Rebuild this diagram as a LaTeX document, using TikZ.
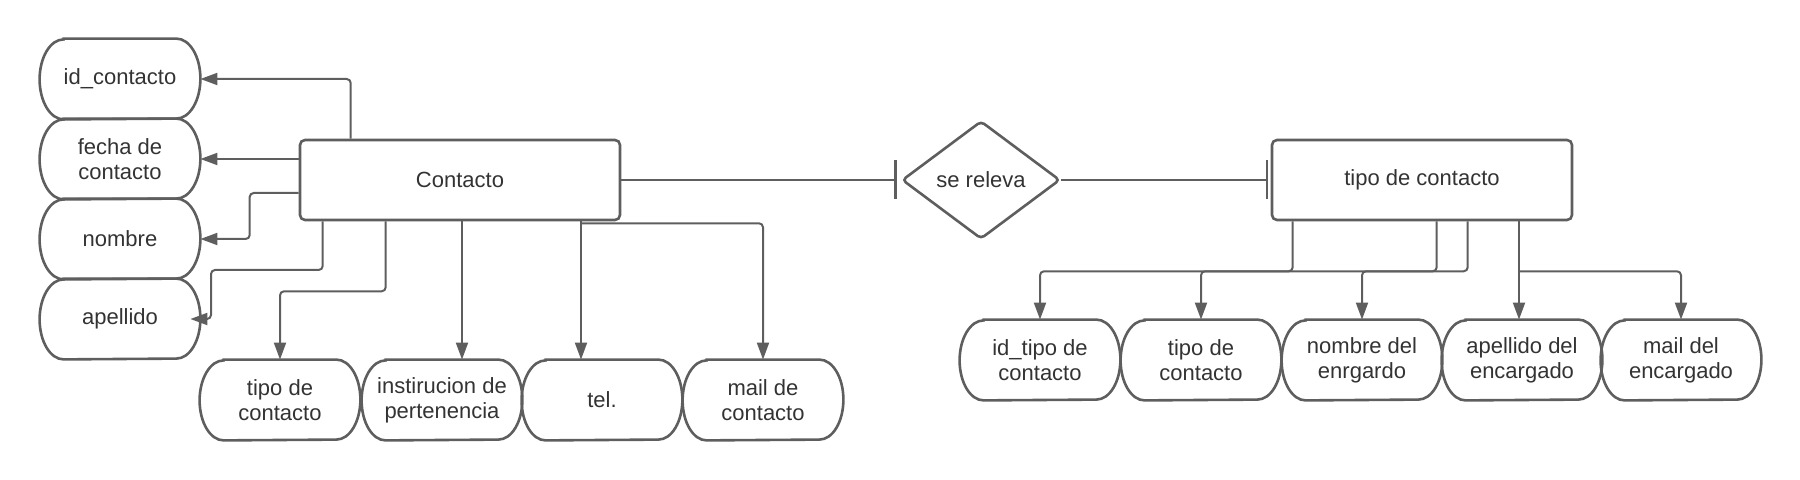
\documentclass[tikz,border=0pt]{standalone}
\usepackage{fontspec}
\setmainfont{Liberation Sans}
\usetikzlibrary{arrows.meta,shapes.geometric}
\definecolor{ln}{HTML}{5E5E5E}
\definecolor{tx}{HTML}{333333}
\newcommand\attrshape[1]{%
  \draw[shapeline] ([xshift=12pt]#1.north west) -- ([xshift=-12pt]#1.north east)
    arc[start angle=90, end angle=-90, x radius=12pt, y radius=20pt]
    -- ([xshift=12pt]#1.south west)
    arc[start angle=270, end angle=90, x radius=12pt, y radius=20pt] -- cycle;}
\begin{document}
\begin{tikzpicture}[x=0.5pt,y=-0.5pt,
  every node/.style={font=\fontsize{11pt}{12.5pt}\selectfont, text=tx},
  attrbox/.style={rectangle, minimum width=80pt, minimum height=40pt, inner sep=0pt, align=center},
  entbox/.style={rectangle, draw=ln, line width=1.3pt, rounded corners=2.5pt, minimum height=40pt, inner sep=0pt},
  relshape/.style={diamond, draw=ln, line width=1.3pt, rounded corners=2pt, minimum width=79pt, minimum height=59pt, inner sep=0pt, aspect=1.34},
  shapeline/.style={draw=ln, line width=1.3pt},
  conn/.style={draw=ln, line width=1pt, rounded corners=2pt, -{Triangle[length=8.5pt,width=6pt]}},
  plainline/.style={draw=ln, line width=1pt, rounded corners=2pt},
  erline/.style={draw=ln, -{Bar[width=19.5pt]}},
]
\useasboundingbox (0,0) rectangle (1800,480);

% left attributes
\node[attrbox] (idc) at (120,79) {id\_contacto};
\node[attrbox] (fecha) at (120,159) {fecha de\\contacto};
\node[attrbox] (nombre) at (120,239) {nombre};
\node[attrbox] (apellido) at (120,319) {apellido};

% entities and relation
\node[entbox, minimum width=160pt] (contacto) at (460,180) {Contacto};
\node[relshape] (rel) at (981,180) {se releva};
\node[entbox, minimum width=150pt] (tipo) at (1422,180) {tipo de contacto};

% bottom-left attributes
\node[attrbox] (a1) at (280,400) {tipo de\\contacto};
\node[attrbox] (a2) at (442,400) {instirucion de\\pertenencia};
\node[attrbox] (a3) at (602,400) {tel.};
\node[attrbox] (a4) at (763,400) {mail de\\contacto};

% bottom-right attributes
\node[attrbox] (b1) at (1040,360) {id\_tipo de\\contacto};
\node[attrbox] (b2) at (1201,360) {tipo de\\contacto};
\node[attrbox] (b3) at (1362,360) {nombre del\\enrgardo};
\node[attrbox] (b4) at (1522,360) {apellido del\\encargado};
\node[attrbox] (b5) at (1681,360) {mail del\\encargado};

\foreach \n in {idc,fecha,nombre,apellido,a1,a2,a3,a4,b1,b2,b3,b4,b5}{\attrshape{\n}}

% helper coordinates
\coordinate (a2t) at ([xshift=10pt]a2.north);
\coordinate (a3t) at ([xshift=-10.5pt]a3.north);
\coordinate (b4t) at ([xshift=-1.5pt]b4.north);

% connectors Contacto
\draw[conn] (contacto.north west) ++(52,0) |- (idc.east);
\draw[conn] (contacto.west |- fecha.east) -- (fecha.east);
\draw[conn] (contacto.west) ++(0,13) -- ++(-49,0) |- (nombre.east);
\draw[conn] (contacto.south west) ++(24,0) |- (211,270) |- ([xshift=-5pt]apellido.east);
\draw[conn] (contacto.south west) ++(87,0) -- ++(0,70) -| (a1.north);
\draw[conn] (contacto.south -| a2t) -- (a2t);
\draw[conn] (contacto.south -| a3t) -- (a3t);
\draw[conn] (contacto.south -| a3t) ++(0,2) -| (a4.north);

% ER lines
\draw[erline, line width=1.35pt, shorten >=2pt] (contacto.east) -- (rel.west);
\draw[erline, line width=1pt, shorten >=1.5pt] (rel.east) -- (tipo.west);

% connectors tipo de contacto
\draw[conn] (tipo.south west) ++(22,0) -- ++(0,50) -| (b1.north);
\draw[conn] (tipo.south west) ++(166,0) -- ++(0,50) -| (b2.north);
\draw[conn] (tipo.south west) ++(197,0) -- ++(0,50) -| (b3.north);
\draw[conn] (tipo.south -| b4t) -- (b4t);
\draw[conn] (tipo.south -| b4t) ++(0,50) -| (b5.north);
\end{tikzpicture}
\end{document}
